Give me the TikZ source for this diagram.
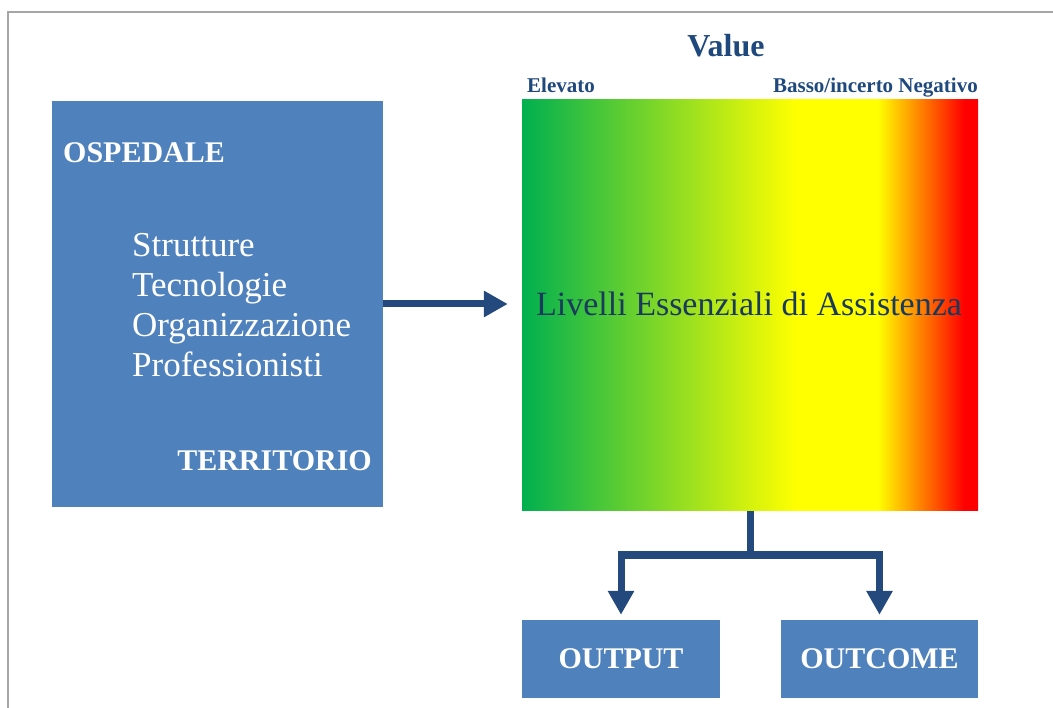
\documentclass[tikz,border=0pt]{standalone}
\usepackage{fontspec}
\setmainfont{Liberation Serif}
\usetikzlibrary{arrows.meta}
\definecolor{boxblue}{RGB}{79,129,189}
\definecolor{arrowblue}{RGB}{36,73,125}
\definecolor{titleblue}{RGB}{31,73,125}
\definecolor{leatext}{RGB}{25,58,92}
\definecolor{framegray}{RGB}{166,166,166}
\pgfdeclarehorizontalshading{valuegrad}{100bp}{rgb(0bp)=(0,0.69,0.31); rgb(25bp)=(0,0.69,0.31); rgb(55bp)=(1,1,0); rgb(64bp)=(1,1,0); rgb(73.5bp)=(1,0,0); rgb(100bp)=(1,0,0)}
\tikzset{
  bluebox/.style={fill=boxblue, draw=none, inner sep=0pt},
  whitebold/.style={text=white, font=\bfseries\fontsize{30}{36}\selectfont, inner sep=0pt},
  whitelist/.style={text=white, font=\fontsize{35}{40}\selectfont, inner sep=0pt},
  smallhead/.style={text=titleblue, font=\bfseries\fontsize{21}{25}\selectfont, inner sep=0pt},
  conn/.style={draw=arrowblue, line width=7pt, line join=miter},
  connarrow/.style={conn, -{Triangle[length=24pt,width=25pt]}},
}
\begin{document}
\begin{tikzpicture}[x=1pt,y=-1pt]
\useasboundingbox (0,0) rectangle (1053,708);
% outer frame (only top and left visible)
\draw[framegray, line width=2pt] (1053,12) -- (8,12) -- (8,708);

% left box
\node[bluebox, minimum width=331pt, minimum height=406pt] (osp) at (217.5,304) {};
\node[whitebold, anchor=base west] (ospt) at (63,163) {OSPEDALE};
\node[whitelist, anchor=base west] (l1) at (132,257) {Strutture};
\node[whitelist, anchor=base west] (l2) at (132,297) {Tecnologie};
\node[whitelist, anchor=base west] (l3) at (132,337) {Organizzazione};
\node[whitelist, anchor=base west] (l4) at (132,377) {Professionisti};
\node[whitebold, anchor=base east] (terr) at (372,471) {TERRITORIO};

% gradient box
\node[shading=valuegrad, minimum width=456pt, minimum height=411pt, inner sep=0pt] (lea) at (750,305.5) {};
\node[text=leatext, font=\fontsize{34}{40}\selectfont, inner sep=0pt, anchor=base] (leat) at (749,316) {Livelli Essenziali di Assistenza};

% headings
\node[text=titleblue, font=\bfseries\fontsize{32}{38}\selectfont, inner sep=0pt, anchor=base] (value) at (726,57) {Value};
\node[smallhead, anchor=base west] (elev) at (527,93) {Elevato};
\node[smallhead, anchor=base east] (basso) at (978,93) {Basso/incerto Negativo};

% bottom boxes
\node[bluebox, minimum width=198pt, minimum height=78pt] (outp) at (621,659) {};
\node[whitebold] (outpt) at (outp) {OUTPUT};
\node[bluebox, minimum width=197pt, minimum height=78pt] (outc) at (879.5,659) {};
\node[whitebold] (outct) at (outc) {OUTCOME};

% connectors
\draw[connarrow, shorten >=14pt] (osp.east) -- (osp.east -| lea.west);
\coordinate (split) at (750,555);
\draw[conn] (lea.south) -- (split);
\draw[connarrow, shorten >=5pt] (split) -| (outp.north);
\draw[connarrow, shorten >=5pt] (split) -| (outc.north);
\end{tikzpicture}
\end{document}
